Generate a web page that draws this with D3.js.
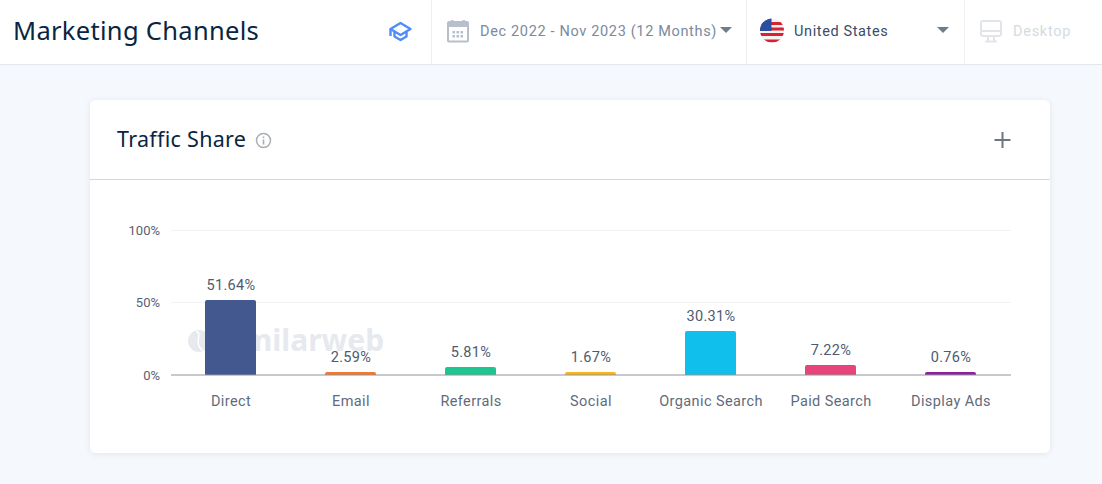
<!DOCTYPE html>
<html>
<head>
<meta charset="utf-8">
<title>Marketing Channels</title>
<style>
html, body { margin: 0; padding: 0; background: #f5f8fc; overflow: hidden; }
text { font-family: Roboto, sans-serif; }
.head { font-family: "Noto Sans", sans-serif; fill: #092540; }
</style>
</head>
<body>
<svg id="page" width="1102" height="484"></svg>
<script src="https://cdnjs.cloudflare.com/ajax/libs/d3/7.8.5/d3.min.js"></script>
<script>
var channels = ["Direct", "Email", "Referrals", "Social", "Organic Search", "Paid Search", "Display Ads"]
var shares = [51.64, 2.59, 5.81, 1.67, 30.31, 7.22, 0.76]
var barColors = ["#43588f", "#f4772e", "#1fc58f", "#f9b41c", "#10bfeb", "#e6447a", "#8e1f9e"]
var yTicks = [0, 50, 100]

var svg = d3.select("#page")

// top bar
svg.append("rect").attr("width", 1102).attr("height", 64.5).attr("fill", "#fff")
svg.append("line").attr("x1", 0).attr("x2", 1102).attr("y1", 64.5).attr("y2", 64.5).attr("stroke", "#e3e7ee")
;[431.5, 746.5, 964.5].forEach(function(x) {
  svg.append("line").attr("x1", x).attr("x2", x).attr("y1", 0).attr("y2", 64).attr("stroke", "#eceff3")
})
svg.append("text").attr("class", "head").attr("x", 13).attr("y", 40).attr("font-size", 25.5).attr("letter-spacing", 0.3).text("Marketing Channels")

// grad cap
var cap = svg.append("g").attr("fill", "none").attr("stroke", "#4f8df9").attr("stroke-width", 2.4).attr("stroke-linejoin", "round")
cap.append("path").attr("d", "M390.5 29 L400.5 23 L410.5 29 L400.5 35 Z")
cap.append("path").attr("d", "M394.5 32 V36.5 L400.5 40 L406.5 36.5 V32")
cap.append("path").attr("d", "M390.5 29 V36")

// calendar
var cal = svg.append("g")
cal.append("rect").attr("x", 448).attr("y", 22).attr("width", 20).attr("height", 19.5).attr("rx", 1).attr("fill", "none").attr("stroke", "#b6bfcb").attr("stroke-width", 2)
cal.append("rect").attr("x", 448).attr("y", 22).attr("width", 20).attr("height", 5).attr("fill", "#b6bfcb")
cal.append("rect").attr("x", 451).attr("y", 20).attr("width", 2.5).attr("height", 4).attr("fill", "#b6bfcb")
cal.append("rect").attr("x", 462.5).attr("y", 20).attr("width", 2.5).attr("height", 4).attr("fill", "#b6bfcb")
;[0, 1, 2].forEach(function(c) {
  ;[0, 1].forEach(function(r) {
    cal.append("rect").attr("x", 452.5 + c * 4).attr("y", 31 + r * 4).attr("width", 2.5).attr("height", 2.5).attr("fill", "#b6bfcb")
  })
})

svg.append("text").attr("x", 480).attr("y", 36).attr("font-size", 14.5).attr("letter-spacing", 0.66).attr("fill", "#7a8a9e").text("Dec 2022 - Nov 2023 (12 Months)")
svg.append("path").attr("d", "M720 27 H732 L726 33 Z").attr("fill", "#6f7c8a")

// flag
var defs = svg.append("defs")
defs.append("clipPath").attr("id", "flagClip").append("circle").attr("cx", 772).attr("cy", 30.5).attr("r", 12)
var flag = svg.append("g").attr("clip-path", "url(#flagClip)")
flag.append("rect").attr("x", 760).attr("y", 18).attr("width", 24).attr("height", 25).attr("fill", "#f3f3f3")
;[22, 27.5, 33, 38.5].forEach(function(y, i) {
  flag.append("rect").attr("x", 760).attr("y", y + (i == 3 ? 1 : 0)).attr("width", 24).attr("height", 3).attr("fill", "#d8232f")
})
flag.append("rect").attr("x", 760).attr("y", 18).attr("width", 11.5).attr("height", 13).attr("fill", "#2b4f9e")

svg.append("text").attr("x", 794).attr("y", 36).attr("font-size", 14.5).attr("letter-spacing", 0.62).attr("fill", "#3a4d66").text("United States")
svg.append("path").attr("d", "M937 27 H949 L943 33 Z").attr("fill", "#6f7c8a")

// desktop icon
var desk = svg.append("g").attr("stroke", "#e1e5ea").attr("stroke-width", 2).attr("fill", "none")
desk.append("rect").attr("x", 981).attr("y", 21).attr("width", 20).attr("height", 15).attr("rx", 2)
desk.append("path").attr("d", "M981 31 H1001 M988 36 V41 M994 36 V41 M985 41.5 H997")
svg.append("text").attr("x", 1013).attr("y", 36).attr("font-size", 14.5).attr("letter-spacing", 0.72).attr("fill", "#d5dae1").text("Desktop")

// card
var shadow = defs.append("filter").attr("id", "cardShadow").attr("x", "-5%").attr("y", "-5%").attr("width", "110%").attr("height", "110%")
shadow.append("feDropShadow").attr("dx", 0).attr("dy", 1).attr("stdDeviation", 3).attr("flood-color", "#092540").attr("flood-opacity", 0.08)
svg.append("rect").attr("x", 90).attr("y", 100).attr("width", 960).attr("height", 353).attr("rx", 6).attr("fill", "#fff").attr("filter", "url(#cardShadow)")
svg.append("line").attr("x1", 90).attr("x2", 1050).attr("y1", 179.5).attr("y2", 179.5).attr("stroke", "#d4d7dc")
svg.append("text").attr("class", "head").attr("x", 117).attr("y", 147).attr("font-size", 21.5).attr("letter-spacing", 0.3).text("Traffic Share")

// info icon
svg.append("circle").attr("cx", 263.5).attr("cy", 140.5).attr("r", 7).attr("fill", "none").attr("stroke", "#aaaeb3").attr("stroke-width", 1.5)
svg.append("rect").attr("x", 262.7).attr("y", 139.5).attr("width", 1.6).attr("height", 5).attr("fill", "#aaaeb3")
svg.append("rect").attr("x", 262.7).attr("y", 136.5).attr("width", 1.6).attr("height", 1.6).attr("fill", "#aaaeb3")

// plus
svg.append("path").attr("d", "M994.5 140 H1010.5 M1002.5 132 V148").attr("stroke", "#6c7682").attr("stroke-width", 2).attr("fill", "none")

// chart
var x = d3.scaleBand().domain(channels).range([171, 1011]).paddingInner(0).paddingOuter(0)
var y = d3.scaleLinear().domain([0, 100]).range([375, 229.5])
var barW = 51

var yAxis = d3.axisLeft(y).tickValues(yTicks).tickSize(0).tickPadding(11).tickFormat(function(d) { return d + "%" })
var yg = svg.append("g").attr("transform", "translate(171,0.5)").call(yAxis)
yg.select(".domain").remove()
yg.selectAll("text").attr("font-size", 13).attr("fill", "#566275").style("font-family", "Roboto, sans-serif")

svg.append("g").selectAll("line").data(yTicks.filter(function(d) { return d > 0 })).enter().append("line")
  .attr("x1", 171).attr("x2", 1011)
  .attr("y1", function(d) { return Math.round(y(d)) + 0.5 }).attr("y2", function(d) { return Math.round(y(d)) + 0.5 })
  .attr("stroke", "#f2f3f5")

// watermark
var wm = svg.append("g").attr("fill", "#e6e9ee")
wm.append("circle").attr("cx", 199).attr("cy", 341).attr("r", 11)
wm.append("path").attr("d", "M196 331 C204 335 192 342 203 351").attr("stroke", "#fff").attr("stroke-width", 1.5).attr("fill", "none")
wm.append("text").attr("x", 219).attr("y", 351).attr("font-size", 30).attr("font-weight", 700).style("font-family", "'Noto Sans', sans-serif").text("similarweb")

// small values still get a 3px bar, tops snap to whole pixels
var barTop = function(d) { return Math.ceil(Math.min(y(d), y(0) - 3)) }
svg.append("g").selectAll("path").data(shares).enter().append("path")
  .attr("d", function(d, i) {
    var x0 = x(channels[i]) + (x.bandwidth() - barW) / 2 - 0.5
    var t = barTop(d)
    var r = Math.min(2, y(0) - t)
    return "M" + x0 + " " + y(0) + "V" + (t + r) + "Q" + x0 + " " + t + " " + (x0 + r) + " " + t +
      "H" + (x0 + barW - r) + "Q" + (x0 + barW) + " " + t + " " + (x0 + barW) + " " + (t + r) + "V" + y(0) + "Z"
  })
  .attr("fill", function(d, i) { return barColors[i] })

svg.append("line").attr("x1", 171).attr("x2", 1011).attr("y1", 375).attr("y2", 375).attr("stroke", "#8f9499").attr("stroke-width", 1.2)

svg.append("g").selectAll("text").data(shares).enter().append("text")
  .attr("x", function(d, i) { return x(channels[i]) + x.bandwidth() / 2 })
  .attr("y", function(d) { return barTop(d) - 10 })
  .attr("text-anchor", "middle").attr("font-size", 14.5).attr("letter-spacing", 0.35).attr("fill", "#4d5b70")
  .text(function(d) { return d.toFixed(2) + "%" })

var xAxis = d3.axisBottom(x).tickSize(0).tickPadding(0)
var xg = svg.append("g").attr("transform", "translate(0,397)").call(xAxis)
xg.select(".domain").remove()
xg.selectAll("text").attr("font-size", 14.5).attr("letter-spacing", 0.4).attr("fill", "#5f6b7c").attr("dy", 9).style("font-family", "Roboto, sans-serif")
</script>
</body>
</html>
